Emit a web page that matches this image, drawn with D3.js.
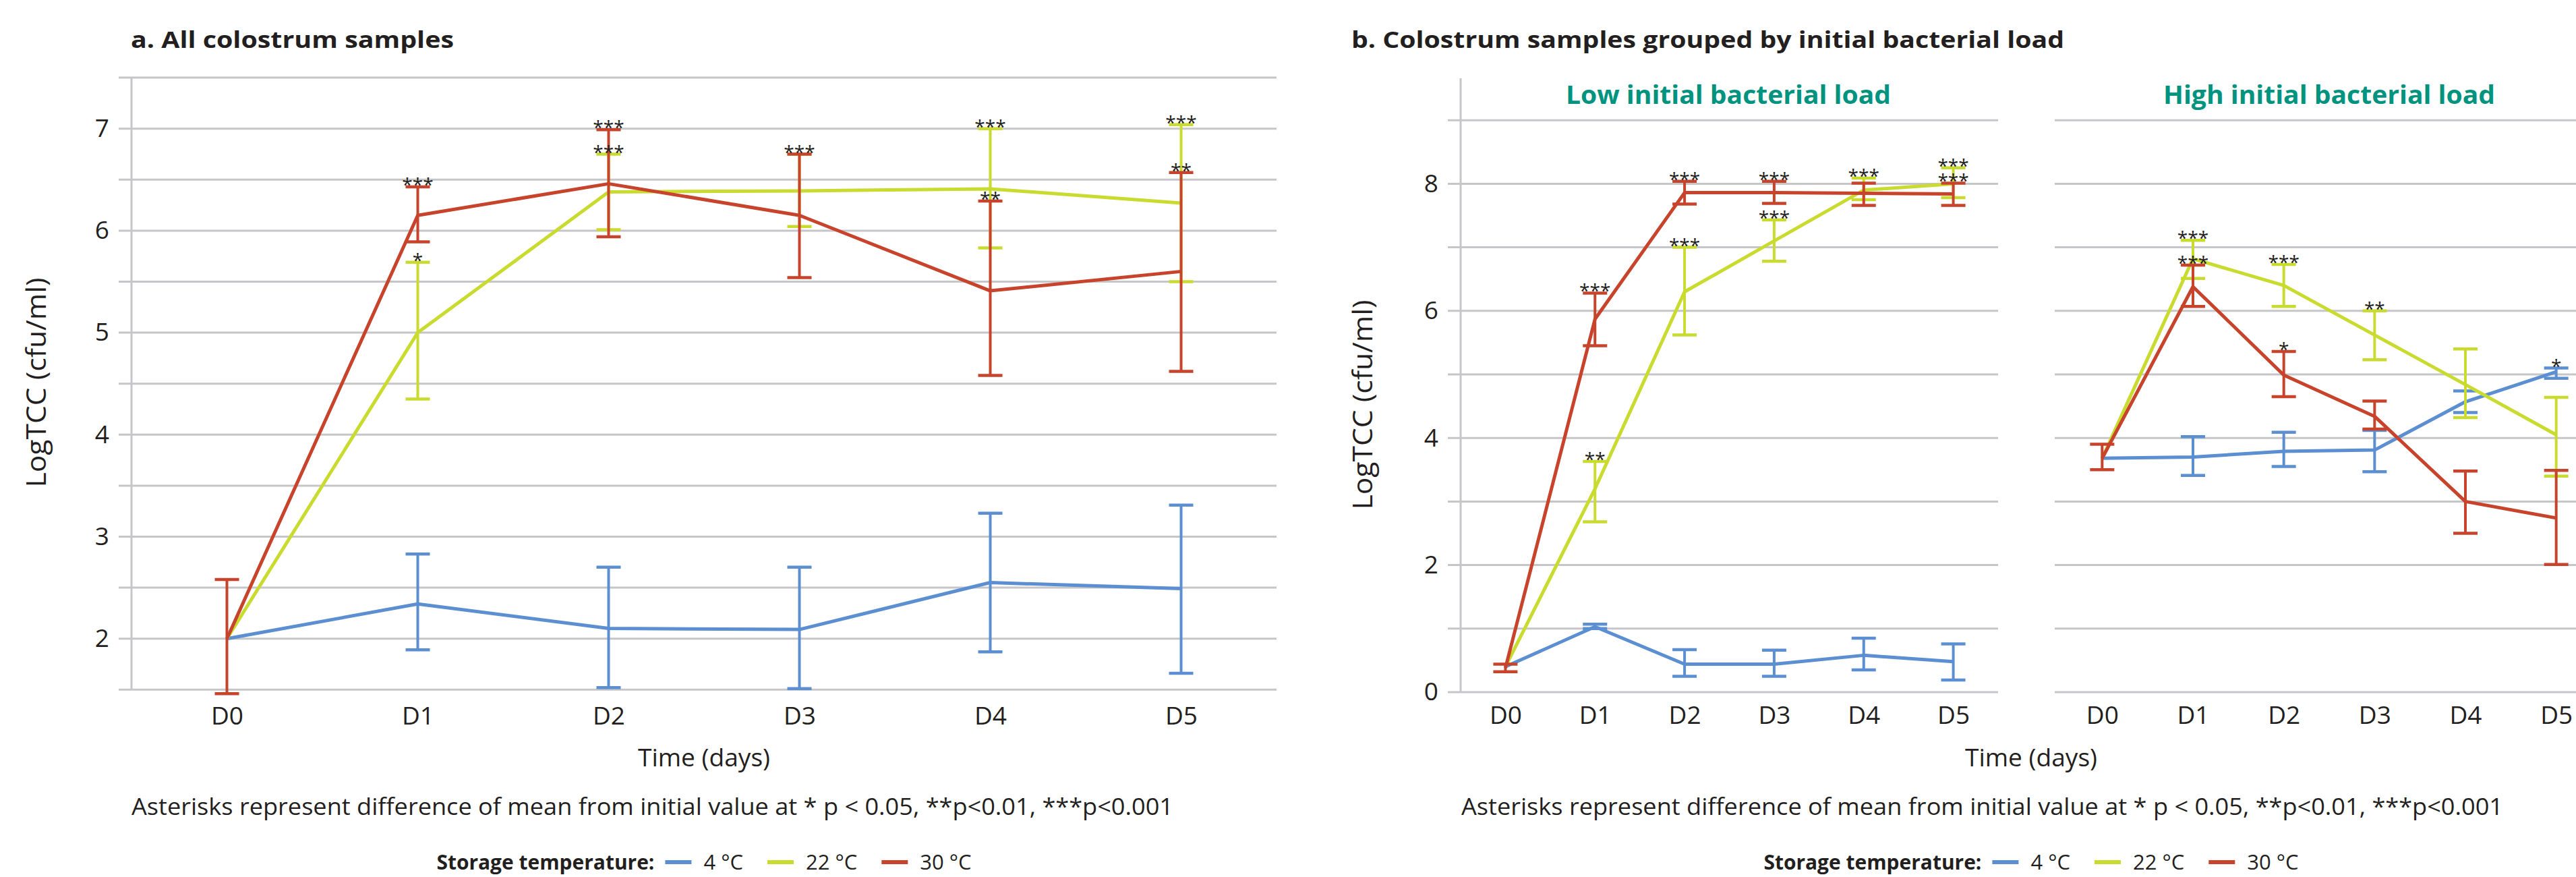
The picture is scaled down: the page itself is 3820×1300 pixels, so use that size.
<!DOCTYPE html>
<html>
<head>
<meta charset="utf-8">
<script src="https://cdn.jsdelivr.net/npm/d3@7"></script>
<style>
  body { margin: 0; background: #fff; }
  text { fill: #231f20; }
</style>
</head>
<body>
<svg id="chart" width="3820" height="1300"></svg>
<script>
// ---- data ----
const days = ["D0", "D1", "D2", "D3", "D4", "D5"];
const temps = ["4 °C", "22 °C", "30 °C"];

// a. All colostrum samples (LogTCC mean, error bar top, error bar bottom)
const allMean4  = [2.00, 2.34, 2.10, 2.09, 2.55, 2.49];
const allHi4    = [null, 2.83, 2.70, 2.70, 3.23, 3.31];
const allLo4    = [null, 1.89, 1.52, 1.51, 1.87, 1.66];
const allMean22 = [2.00, 5.00, 6.38, 6.39, 6.41, 6.27];
const allHi22   = [null, 5.69, 6.75, 6.75, 7.00, 7.04];
const allLo22   = [null, 4.35, 6.01, 6.04, 5.83, 5.50];
const allMean30 = [2.00, 6.15, 6.46, 6.15, 5.41, 5.60];
const allHi30   = [2.58, 6.43, 6.99, 6.75, 6.29, 6.57];
const allLo30   = [1.46, 5.89, 5.94, 5.54, 4.58, 4.62];
// [day, series index, label]
const allStars = [
  ["D1", 2, "***"], ["D1", 1, "*"],
  ["D2", 2, "***"], ["D2", 1, "***"],
  ["D3", 1, "***"],
  ["D4", 1, "***"], ["D4", 2, "**"],
  ["D5", 1, "***"], ["D5", 2, "**"]
];

// b. Low initial bacterial load
const lowMean4  = [0.40, 1.03, 0.44, 0.44, 0.58, 0.48];
const lowHi4    = [null, 1.07, 0.67, 0.66, 0.85, 0.76];
const lowLo4    = [null, 1.00, 0.25, 0.25, 0.35, 0.19];
const lowMean22 = [0.40, 3.20, 6.30, 7.10, 7.90, 8.00];
const lowHi22   = [null, 3.63, 7.00, 7.43, 8.09, 8.25];
const lowLo22   = [null, 2.68, 5.62, 6.78, 7.75, 7.78];
const lowMean30 = [0.38, 5.87, 7.86, 7.86, 7.85, 7.84];
const lowHi30   = [0.44, 6.28, 8.04, 8.04, 8.01, 8.01];
const lowLo30   = [0.32, 5.45, 7.68, 7.69, 7.66, 7.66];
const lowStars = [
  ["D1", 2, "***"], ["D1", 1, "**"],
  ["D2", 2, "***"], ["D2", 1, "***"],
  ["D3", 2, "***"], ["D3", 1, "***"],
  ["D4", 1, "***"],
  ["D5", 1, "***"], ["D5", 2, "***"]
];

// b. High initial bacterial load
const highMean4  = [3.68, 3.70, 3.79, 3.81, 4.57, 5.04];
const highHi4    = [null, 4.02, 4.09, 4.12, 4.74, 5.10];
const highLo4    = [null, 3.41, 3.55, 3.47, 4.40, 4.94];
const highMean22 = [3.68, 6.82, 6.40, 5.62, 4.84, 4.05];
const highHi22   = [null, 7.11, 6.73, 6.00, 5.40, 4.64];
const highLo22   = [null, 6.51, 6.07, 5.23, 4.32, 3.40];
const highMean30 = [3.68, 6.38, 4.99, 4.34, 3.00, 2.74];
const highHi30   = [3.90, 6.72, 5.36, 4.58, 3.48, 3.49];
const highLo30   = [3.50, 6.07, 4.65, 4.14, 2.50, 2.01];
const highStars = [
  ["D1", 1, "***"], ["D1", 2, "***"],
  ["D2", 1, "***"], ["D2", 2, "*"],
  ["D3", 1, "**"],
  ["D5", 0, "*"]
];

const note = "Asterisks represent difference of mean from initial value at * p < 0.05, **p<0.01, ***p<0.001";

// ---- style ----
const colors = ["#5b8fd2", "#c9db2e", "#c7432b"];
const gridColor = "#c6c6c9";
const teal = "#00937f";
const font = "'Open Sans', Lato, sans-serif";

const svg = d3.select("#chart");

function seriesOf(means, his, los) {
  return means.map((m, i) => ({ mean: m, hi: his[i], lo: los[i] }));
}

// text helper; fit = target width in px (squeezes/stretches glyphs slightly)
function label(x, y, str, size, opts = {}) {
  const t = svg.append("text")
    .attr("x", x).attr("y", y)
    .attr("font-family", font)
    .attr("font-size", size)
    .attr("font-weight", opts.bold ? 700 : 400)
    .attr("text-anchor", opts.anchor || "start")
    .text(str);
  if (opts.fill) t.style("fill", opts.fill);
  if (opts.fit) t.attr("textLength", opts.fit).attr("lengthAdjust", "spacingAndGlyphs");
  return t;
}

function drawPlot(cfg) {
  const g = svg.append("g");
  const x = d3.scalePoint().domain(days).range(cfg.xRange).padding(0.5);
  const y = cfg.y;

  // gridlines
  g.append("g").selectAll("line").data(cfg.grid).join("line")
    .attr("x1", cfg.gridLeft).attr("x2", cfg.gridRight)
    .attr("y1", d => y(d)).attr("y2", d => y(d))
    .attr("stroke", gridColor).attr("stroke-width", 3);

  if (cfg.axisLine) {
    g.append("line")
      .attr("x1", cfg.xRange[0]).attr("x2", cfg.xRange[0])
      .attr("y1", cfg.axisTop).attr("y2", y.range()[0])
      .attr("stroke", gridColor).attr("stroke-width", 3);
  }

  // y tick labels
  if (cfg.yTicks) {
    const ya = g.append("g")
      .attr("transform", `translate(${cfg.xRange[0]},0)`)
      .call(d3.axisLeft(y).tickValues(cfg.yTicks).tickSize(0).tickPadding(33).tickFormat(d3.format("d")));
    ya.select(".domain").remove();
    ya.selectAll("text").attr("font-family", font).attr("font-size", 37).attr("fill", "#231f20");
  }

  // x tick labels
  const xa = g.append("g")
    .attr("transform", `translate(0,${y.range()[0]})`)
    .call(d3.axisBottom(x).tickSize(0).tickPadding(cfg.xPad));
  xa.select(".domain").remove();
  xa.selectAll("text").attr("font-family", font).attr("font-size", 37).attr("fill", "#231f20");

  // series: line + error bars
  const line = d3.line().x((d, i) => x(days[i])).y(d => y(d.mean));
  cfg.series.forEach((s, si) => {
    const sg = g.append("g");
    sg.append("path").datum(s)
      .attr("d", line)
      .attr("fill", "none")
      .attr("stroke", colors[si])
      .attr("stroke-width", 5)
      .attr("stroke-linejoin", "round");

    const bars = s.map((d, i) => Object.assign({ day: days[i] }, d)).filter(d => d.hi != null);
    const eb = sg.selectAll("g.eb").data(bars).join("g").attr("class", "eb");
    eb.append("line")
      .attr("x1", d => x(d.day)).attr("x2", d => x(d.day))
      .attr("y1", d => y(d.hi)).attr("y2", d => y(d.lo))
      .attr("stroke", colors[si]).attr("stroke-width", 4);
    ["hi", "lo"].forEach(k => {
      eb.append("line")
        .attr("x1", d => x(d.day) - 18).attr("x2", d => x(d.day) + 18)
        .attr("y1", d => y(d[k])).attr("y2", d => y(d[k]))
        .attr("stroke", colors[si]).attr("stroke-width", 4.5);
    });
  });

  // significance asterisks
  g.append("g").selectAll("text").data(cfg.stars).join("text")
    .attr("x", d => x(d[0]))
    .attr("y", d => y(cfg.series[d[1]][days.indexOf(d[0])].hi) + 7)
    .attr("text-anchor", "middle")
    .attr("font-family", font)
    .attr("font-size", 28)
    .text(d => d[2]);

  return x;
}

function drawLegend(cx, yBase) {
  const lg = svg.append("g");
  lg.append("text").attr("x", 0).attr("y", yBase)
    .attr("font-family", font).attr("font-weight", 700).attr("font-size", 30)
    .attr("textLength", 323).attr("lengthAdjust", "spacingAndGlyphs")
    .text("Storage temperature:");
  let pos = 323 + 16;
  temps.forEach((t, i) => {
    lg.append("line")
      .attr("x1", pos).attr("x2", pos + 39)
      .attr("y1", yBase - 11).attr("y2", yBase - 11)
      .attr("stroke", colors[i]).attr("stroke-width", 6);
    pos += 39 + 18;
    const tx = lg.append("text").attr("x", pos).attr("y", yBase)
      .attr("font-family", font).attr("font-size", 31)
      .text(t);
    pos += tx.node().getComputedTextLength() + 36;
  });
  const total = pos - 36;
  lg.attr("transform", `translate(${cx - total / 2},0)`);
}

function bottomTexts(xLeft, xCenter) {
  label(xCenter, 1136, "Time (days)", 36, { anchor: "middle", fit: 196 });
  label(xLeft, 1208, note, 35, { fit: 1545 });
  drawLegend(xCenter, 1289);
}

function yTitle(xPos, yPos) {
  svg.append("text")
    .attr("transform", `translate(${xPos},${yPos}) rotate(-90)`)
    .attr("text-anchor", "middle")
    .attr("font-family", font)
    .attr("font-size", 40)
    .attr("textLength", 311).attr("lengthAdjust", "spacingAndGlyphs")
    .text("LogTCC (cfu/ml)");
}

// ---- panel a ----
const yA = d3.scaleLinear().domain([1.5, 7.5]).range([1022.3, 115.1]);
label(194, 71, "a. All colostrum samples", 34, { bold: true, fit: 479 });
drawPlot({
  xRange: [195, 1893], y: yA,
  grid: d3.range(1.5, 7.51, 0.5), gridLeft: 176, gridRight: 1893,
  axisLine: true, axisTop: 115,
  yTicks: [2, 3, 4, 5, 6, 7], xPad: 25,
  series: [seriesOf(allMean4, allHi4, allLo4), seriesOf(allMean22, allHi22, allLo22), seriesOf(allMean30, allHi30, allLo30)],
  stars: allStars
});
yTitle(68, 567);
bottomTexts(195, 1044);

// ---- panel b ----
const yB = d3.scaleLinear().domain([0, 9]).range([1026, 178.2]);
label(2004, 71, "b. Colostrum samples grouped by initial bacterial load", 34, { bold: true, fit: 1057 });
drawPlot({
  xRange: [2166, 2963], y: yB,
  grid: d3.range(0, 10), gridLeft: 2147, gridRight: 2963,
  axisLine: true, axisTop: 116,
  yTicks: [0, 2, 4, 6, 8], xPad: 21,
  series: [seriesOf(lowMean4, lowHi4, lowLo4), seriesOf(lowMean22, lowHi22, lowLo22), seriesOf(lowMean30, lowHi30, lowLo30)],
  stars: lowStars
});
drawPlot({
  xRange: [3050, 3858], y: yB,
  grid: d3.range(0, 10), gridLeft: 3047, gridRight: 3858,
  axisLine: false,
  yTicks: null, xPad: 21,
  series: [seriesOf(highMean4, highHi4, highLo4), seriesOf(highMean22, highHi22, highLo22), seriesOf(highMean30, highHi30, highLo30)],
  stars: highStars
});
label(2563, 154, "Low initial bacterial load", 38, { bold: true, anchor: "middle", fill: teal, fit: 482 });
label(3454, 154, "High initial bacterial load", 38, { bold: true, anchor: "middle", fill: teal, fit: 492 });
yTitle(2035, 600);
bottomTexts(2167, 3012);
</script>
</body>
</html>
